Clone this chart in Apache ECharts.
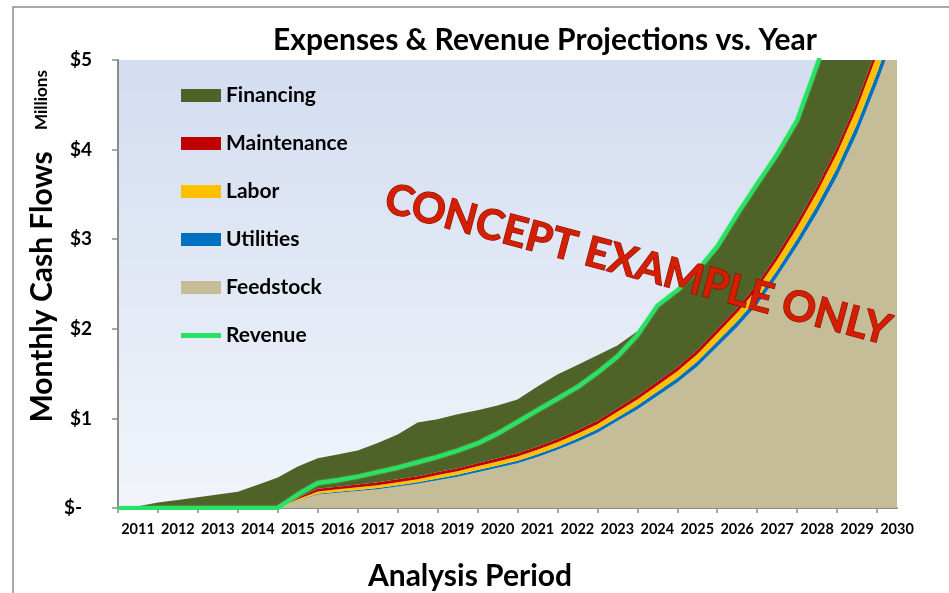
<!DOCTYPE html>
<html>
<head>
<meta charset="utf-8">
<title>Expenses & Revenue Projections vs. Year</title>
<script src="https://cdn.jsdelivr.net/npm/echarts@6/dist/echarts.min.js"></script>
<style>
  html, body { margin: 0; padding: 0; background: #fff; }
  #chart { width: 949px; height: 593px; }
</style>
</head>
<body>
<div id="chart"></div>
<script>
  // half-year sample points, $ millions per month
  const periods = [2011, 2011.5, 2012, 2012.5, 2013, 2013.5, 2014, 2014.5, 2015, 2015.5,
    2016, 2016.5, 2017, 2017.5, 2018, 2018.5, 2019, 2019.5, 2020, 2020.5,
    2021, 2021.5, 2022, 2022.5, 2023, 2023.5, 2024, 2024.5, 2025, 2025.5,
    2026, 2026.5, 2027, 2027.5, 2028, 2028.5, 2029, 2029.5, 2030, 2030.5];

  const feedstock = [0, 0, 0, 0, 0, 0, 0, 0, 0, 0.08,
    0.15, 0.17, 0.19, 0.21, 0.24, 0.27, 0.31, 0.35, 0.40, 0.45,
    0.50, 0.57, 0.65, 0.74, 0.84, 0.97, 1.10, 1.25, 1.40, 1.58,
    1.80, 2.02, 2.27, 2.58, 2.92, 3.29, 3.70, 4.18, 4.74, 5.35];

  const utilities = [0, 0, 0, 0, 0, 0, 0, 0, 0, 0.005,
    0.010, 0.011, 0.012, 0.013, 0.015, 0.017, 0.019, 0.021, 0.023, 0.025,
    0.027, 0.030, 0.032, 0.035, 0.038, 0.041, 0.044, 0.047, 0.050, 0.054,
    0.058, 0.063, 0.068, 0.074, 0.081, 0.089, 0.098, 0.108, 0.119, 0.130];

  const labor = [0, 0, 0, 0, 0, 0, 0, 0, 0, 0.012,
    0.025, 0.027, 0.029, 0.031, 0.033, 0.035, 0.038, 0.040, 0.042, 0.045,
    0.047, 0.050, 0.052, 0.055, 0.058, 0.062, 0.066, 0.071, 0.076, 0.082,
    0.090, 0.098, 0.108, 0.118, 0.130, 0.145, 0.162, 0.180, 0.200, 0.220];

  const maintenance = [0, 0, 0, 0, 0, 0, 0, 0, 0, 0.015,
    0.030, 0.030, 0.031, 0.032, 0.033, 0.033, 0.034, 0.034, 0.035, 0.035,
    0.036, 0.036, 0.037, 0.037, 0.038, 0.040, 0.042, 0.044, 0.046, 0.048,
    0.050, 0.052, 0.055, 0.058, 0.061, 0.064, 0.068, 0.072, 0.076, 0.080];

  const financing = [0, 0.02, 0.06, 0.09, 0.12, 0.15, 0.18, 0.26, 0.34, 0.35,
    0.34, 0.36, 0.38, 0.44, 0.50, 0.60, 0.59, 0.60, 0.59, 0.59,
    0.60, 0.67, 0.72, 0.73, 0.73, 0.70, 0.72, 0.87, 0.86, 0.89,
    0.92, 1.05, 1.12, 1.12, 1.14, 1.36, 1.57, 1.76, 1.87, 1.92];

  const revenue = [0, 0, 0, 0, 0, 0, 0, 0, 0, 0.15,
    0.28, 0.31, 0.35, 0.40, 0.45, 0.51, 0.57, 0.64, 0.72, 0.83,
    0.96, 1.09, 1.22, 1.35, 1.51, 1.69, 1.93, 2.26, 2.43, 2.65,
    2.92, 3.28, 3.62, 3.95, 4.33, 4.95, 5.6, 6.3, 7.0, 7.7];

  const FONT = 'Lato, "Open Sans", sans-serif';

  function area(name, color, arr) {
    return {
      name, type: 'line', stack: 'cost', data: arr,
      symbol: 'none', color,
      lineStyle: { width: 0 },
      areaStyle: { color, opacity: 1 },
      emphasis: { disabled: true }
    };
  }

  const chart = echarts.init(document.getElementById('chart'));

  chart.setOption({
    animation: false,
    backgroundColor: '#ffffff',
    grid: {
      left: 118, top: 60, right: 52, bottom: 85,
      show: true, borderWidth: 0,
      backgroundColor: new echarts.graphic.LinearGradient(0, 0, 0, 1, [
        { offset: 0, color: '#d3ddf0' },
        { offset: 1, color: '#f1f4fa' }
      ])
    },
    legend: {
      orient: 'vertical', left: 181, top: 85, padding: 0,
      itemWidth: 40, itemHeight: 13, itemGap: 27,
      textStyle: { fontFamily: FONT, fontWeight: 'bold', fontSize: 21, lineHeight: 21, color: '#000' },
      data: [
        { name: 'Financing', icon: 'rect' },
        { name: 'Maintenance', icon: 'rect' },
        { name: 'Labor', icon: 'rect' },
        { name: 'Utilities', icon: 'rect' },
        { name: 'Feedstock', icon: 'rect' },
        { name: 'Revenue', icon: 'path://M0,0L40,0L40,5L0,5Z' }
      ]
    },
    xAxis: {
      type: 'category', boundaryGap: false, data: periods,
      splitLine: { show: false },
      axisLine: { lineStyle: { color: '#8a8a8a', width: 2 } },
      axisTick: { show: true, length: 5, interval: (i) => i % 2 === 0, lineStyle: { color: '#8a8a8a', width: 1.5 } },
      axisLabel: {
        interval: (i) => i % 2 === 1,
        formatter: (v) => String(Math.floor(Number(v))),
        fontFamily: FONT, fontWeight: 'bold', fontSize: 14.5, color: '#000', margin: 14
      }
    },
    yAxis: {
      type: 'value', min: 0, max: 5, interval: 1,
      splitLine: { show: false },
      axisLine: { show: true, lineStyle: { color: '#8a8a8a', width: 2 } },
      axisTick: { show: true, length: 6, lineStyle: { color: '#8a8a8a', width: 1.5 } },
      axisLabel: {
        formatter: (v) => (v === 0 ? '{z|$-}' : '$' + v),
        fontFamily: FONT, fontWeight: 'bold', fontSize: 19, color: '#000', margin: 26,
        rich: { z: { fontFamily: FONT, fontWeight: 'bold', fontSize: 19, color: '#000', padding: [0, 10, 0, 0] } }
      }
    },
    series: [
      area('Feedstock', '#c4bd97', feedstock),
      area('Utilities', '#0070c0', utilities),
      area('Labor', '#ffc000', labor),
      area('Maintenance', '#c00000', maintenance),
      area('Financing', '#4f6228', financing),
      {
        name: 'Revenue', type: 'line', data: revenue, symbol: 'none',
        color: '#27e363', z: 5,
        lineStyle: { color: '#27e363', width: 4, shadowColor: 'rgba(120,255,160,0.8)', shadowBlur: 2 },
        emphasis: { disabled: true }
      }
    ],
    graphic: [
      {
        type: 'rect', silent: true, z: -1,
        shape: { x: 13, y: 7, width: 1000, height: 700 },
        style: { fill: 'none', stroke: '#8c8c8c', lineWidth: 1.5 }
      },
      {
        type: 'text', x: 545, y: 40, silent: true,
        style: { text: 'Expenses & Revenue Projections vs. Year', font: 'bold 30px ' + FONT, fill: '#000', align: 'center', verticalAlign: 'middle' }
      },
      {
        type: 'text', x: 42, y: 287, rotation: Math.PI / 2, silent: true,
        style: { text: 'Monthly Cash Flows', font: 'bold 30px ' + FONT, fill: '#000', align: 'center', verticalAlign: 'middle' }
      },
      {
        type: 'text', x: 42, y: 100, rotation: Math.PI / 2, silent: true,
        style: { text: 'Millions', font: 'bold 17px ' + FONT, fill: '#000', align: 'center', verticalAlign: 'middle' }
      },
      {
        type: 'text', x: 470, y: 576, silent: true,
        style: { text: 'Analysis Period', font: 'bold 30px ' + FONT, fill: '#000', align: 'center', verticalAlign: 'middle' }
      },
      {
        type: 'text', x: 638, y: 265, rotation: -0.26, silent: true, z: 100,
        style: {
          text: 'CONCEPT EXAMPLE ONLY', font: 'bold 42px ' + FONT,
          align: 'center', verticalAlign: 'middle',
          fill: '#d41e00',
          stroke: '#8a0c00', lineWidth: 1.2,
          shadowColor: 'rgba(190,40,30,0.35)', shadowBlur: 6, shadowOffsetY: 9
        }
      }
    ]
  });
</script>
</body>
</html>
